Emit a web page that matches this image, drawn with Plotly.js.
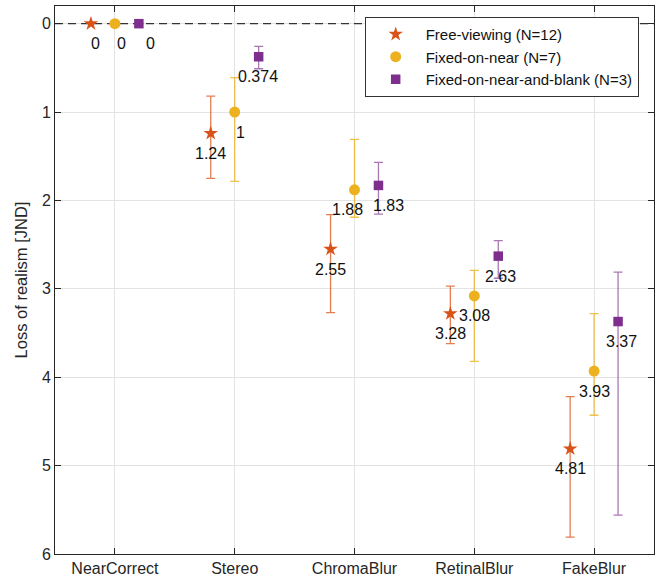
<!DOCTYPE html>
<html><head><meta charset="utf-8">
<script src="https://cdn.plot.ly/plotly-3.0.1.min.js"></script>
<style>html,body{margin:0;padding:0;background:#fff}#chart{width:656px;height:586px}</style>
</head><body><div id="chart"></div>
<script>
const categories = ['NearCorrect','Stereo','ChromaBlur','RetinalBlur','FakeBlur'];
const seriesNames = ['Free-viewing (N=12)','Fixed-on-near (N=7)','Fixed-on-near-and-blank (N=3)'];
const freeVals  = [0, 1.24, 2.55, 3.28, 4.81];
const freeLow   = [0, 0.82, 2.16, 2.97, 4.22];
const freeHigh  = [0, 1.75, 3.27, 3.62, 5.81];
const nearVals  = [0, 1, 1.88, 3.08, 3.93];
const nearLow   = [0, 0.61, 1.31, 2.79, 3.28];
const nearHigh  = [0, 1.785, 2.19, 3.82, 4.43];
const blankVals = [0, 0.374, 1.83, 2.63, 3.37];
const blankLow  = [0, 0.256, 1.57, 2.455, 2.81];
const blankHigh = [0, 0.51, 2.155, 2.88, 5.56];
const yTicks = [0,1,2,3,4,5,6];
const referenceLevel = 0;

// label pixel nudges (style only)
const labelShift = [[5,0,0,0,0],[7,6,-7,0,0],[12,-1,10,2,3]];
const xRange = [-0.5, categories.length - 0.5];

const series = [
  {name: seriesNames[0], vals: freeVals, lo: freeLow, hi: freeHigh, off: -0.2, color: '#D95319', ecolor: 'rgba(217,83,25,0.75)', symbol: 'star', size: 11},
  {name: seriesNames[1], vals: nearVals, lo: nearLow, hi: nearHigh, off: 0, color: '#EDB120', ecolor: 'rgba(237,177,32,0.8)', symbol: 'circle', size: 11},
  {name: seriesNames[2], vals: blankVals, lo: blankLow, hi: blankHigh, off: 0.2, color: '#7E2F8E', ecolor: 'rgba(126,47,142,0.65)', symbol: 'square', size: 9.5}
];

const traces = [{
  type: 'scatter', mode: 'lines', x: xRange, y: [referenceLevel, referenceLevel],
  line: {color: '#333', width: 1.3, dash: '8px,5px'}, showlegend: false, hoverinfo: 'skip', cliponaxis: false
}].concat(series.map(s => ({
  type: 'scatter', mode: 'markers', name: s.name,
  x: categories.map((c, i) => i + s.off),
  y: s.vals,
  marker: {symbol: s.symbol, size: s.size, color: s.color, line: {width: 0}},
  error_y: {type: 'data', symmetric: false,
    array: s.vals.map((v, i) => s.hi[i] - v),
    arrayminus: s.vals.map((v, i) => v - s.lo[i]),
    color: s.ecolor, thickness: 1.3, width: 4.5}
})));

const annotations = [];
series.forEach((s, k) => {
  s.vals.forEach((v, i) => {
    annotations.push({x: i + s.off, y: v, xref: 'x', yref: 'y', text: String(v),
      showarrow: false, yshift: -20, xshift: labelShift[k][i],
      font: {family: 'Liberation Sans, Arial, sans-serif', size: 16, color: '#111'}});
  });
});

const layout = {
  width: 656, height: 586,
  margin: {l: 55, r: 2, t: 6, b: 32},
  paper_bgcolor: '#fff', plot_bgcolor: '#fff',
  font: {family: 'Liberation Sans, Arial, sans-serif', size: 14, color: '#262626'},
  showlegend: true,
  legend: {x: 0.517, y: 0.98, xanchor: 'left', yanchor: 'top', bgcolor: '#fff',
    bordercolor: '#333', borderwidth: 1, font: {size: 15, color: '#111'},
    itemwidth: 50, tracegroupgap: 0},
  xaxis: {range: xRange, tickvals: categories.map((c, i) => i), ticktext: categories,
    showgrid: true, gridcolor: '#e3e3e3', zeroline: false, showline: true, linecolor: '#262626',
    linewidth: 1, mirror: 'allticks', ticks: 'inside', ticklen: 6, tickcolor: '#262626',
    tickfont: {size: 16, color: '#262626'}},
  yaxis: {range: [6, -0.2], tickvals: yTicks, showgrid: true, gridcolor: '#e3e3e3', zeroline: false,
    showline: true, linecolor: '#262626', linewidth: 1, mirror: 'allticks', ticks: 'inside',
    ticklen: 6, tickcolor: '#262626', tickfont: {size: 16, color: '#262626'},
    title: {text: 'Loss of realism [JND]', font: {size: 16.5, color: '#262626'}, standoff: 10}},
  annotations: annotations
};

Plotly.newPlot('chart', traces, layout, {displayModeBar: false, staticPlot: true});
</script></body></html>
